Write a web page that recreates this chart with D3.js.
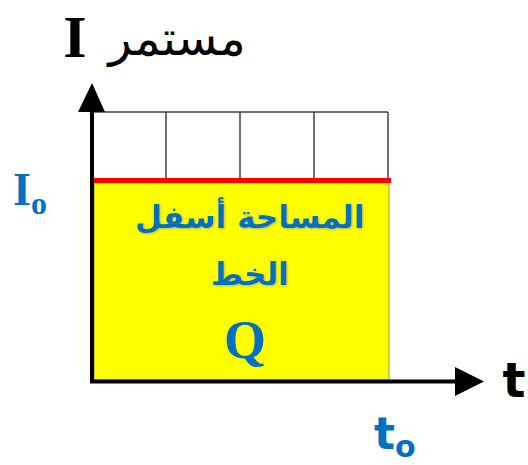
<!DOCTYPE html>
<html>
<head>
<meta charset="utf-8">
<script src="https://cdn.jsdelivr.net/npm/d3@7"></script>
<style>
  body { margin: 0; background: #fff; }
</style>
</head>
<body>
<div id="chart"></div>
<script>
// grid cells along each axis, the constant current and the end time (grid units)
const gridCols = [0, 1, 2, 3, 4];
const gridRows = [0, 1, 2, 3, 4];
const currentI0 = 3;
const timeT0 = 4;
const areaLabel = ["المساحة أسفل", "الخط"];
const yTitle = "مستمر";

const W = 528, H = 465;
const blue = "#0070c0";

const svg = d3.select("#chart").append("svg")
    .attr("width", W)
    .attr("height", H);

const defs = svg.append("defs");
defs.append("filter").attr("id", "glow")
    .append("feDropShadow")
    .attr("dx", 1).attr("dy", 1)
    .attr("stdDeviation", 1.2)
    .attr("flood-color", "#888")
    .attr("flood-opacity", 0.6);

const x = d3.scaleLinear().domain([0, 4]).range([92, 388]);
const y = d3.scaleLinear().domain([0, 4]).range([380, 112]);

//grid lines
svg.append("g")
    .selectAll("line")
    .data(gridCols)
    .join("line")
      .attr("x1", d => x(d)).attr("x2", d => x(d))
      .attr("y1", y(0)).attr("y2", y(4))
      .attr("stroke", "#404040")
      .attr("stroke-width", 1.5);

svg.append("g")
    .selectAll("line")
    .data(gridRows)
    .join("line")
      .attr("x1", x(0)).attr("x2", x(4))
      .attr("y1", d => y(d)).attr("y2", d => y(d))
      .attr("stroke", "#404040")
      .attr("stroke-width", 1.5);

//area under the line
svg.append("rect")
    .attr("x", x(0) + 2)
    .attr("y", y(currentI0))
    .attr("width", x(timeT0) - x(0) - 1)
    .attr("height", y(0) - y(currentI0))
    .attr("fill", "#ffff00")
    .attr("stroke", "#777")
    .attr("stroke-width", 0.8);

//constant current line
svg.append("line")
    .attr("x1", x(0)).attr("x2", x(timeT0) + 3)
    .attr("y1", y(currentI0) + 1.5).attr("y2", y(currentI0) + 1.5)
    .attr("stroke", "#ff0000")
    .attr("stroke-width", 5);

//axes
svg.append("line")
    .attr("x1", x(0)).attr("x2", x(0))
    .attr("y1", y(0) + 3).attr("y2", y(4))
    .attr("stroke", "#000").attr("stroke-width", 4);
svg.append("path")
    .attr("d", `M${x(0) - 14},${y(4)} L${x(0)},${y(4) - 29} L${x(0) + 13},${y(4)} Z`)
    .attr("fill", "#000");

svg.append("line")
    .attr("x1", x(0) - 2).attr("x2", 458)
    .attr("y1", y(0) + 1.5).attr("y2", y(0) + 1.5)
    .attr("stroke", "#000").attr("stroke-width", 4);
svg.append("path")
    .attr("d", `M455,${y(0) - 13} L484,${y(0) + 1.5} L455,${y(0) + 16} Z`)
    .attr("fill", "#000");

//axis titles
svg.append("text")
    .attr("x", 75).attr("y", 57)
    .attr("text-anchor", "middle")
    .style("font-family", "Liberation Serif")
    .style("font-weight", "bold")
    .style("font-size", "60px")
    .text("I");

svg.append("text")
    .attr("x", 177).attr("y", 55)
    .attr("text-anchor", "middle")
    .style("font-family", "DejaVu Sans")
    .style("font-size", "48px")
    .text(yTitle);

svg.append("text")
    .attr("x", 514).attr("y", 397)
    .attr("text-anchor", "middle")
    .style("font-family", "DejaVu Sans")
    .style("font-weight", "bold")
    .style("font-size", "48px")
    .text("t");

//I0 and t0 labels
const i0 = svg.append("text")
    .attr("x", 13).attr("y", 205)
    .attr("fill", blue)
    .style("font-family", "Liberation Serif")
    .style("font-weight", "bold")
    .style("font-size", "46px");
i0.append("tspan").text("I");
i0.append("tspan").attr("dy", 9).style("font-size", "32px").text("o");

const t0 = svg.append("text")
    .attr("x", 374).attr("y", 449)
    .attr("fill", blue)
    .style("font-family", "DejaVu Sans")
    .style("font-weight", "bold")
    .style("font-size", "44px");
t0.append("tspan").text("t");
t0.append("tspan").attr("dy", 8).style("font-size", "30px").text("o");

//label inside the area
const cx = (x(0) + x(timeT0)) / 2 + 10;
svg.append("g")
    .selectAll("text")
    .data(areaLabel)
    .join("text")
      .attr("x", cx)
      .attr("y", (d, i) => 228 + i * 57)
      .attr("text-anchor", "middle")
      .attr("fill", blue)
      .attr("filter", "url(#glow)")
      .style("font-family", "DejaVu Sans")
      .style("font-weight", "bold")
      .style("font-size", "31px")
      .text(d => d);

svg.append("text")
    .attr("x", 245).attr("y", 358)
    .attr("text-anchor", "middle")
    .attr("fill", blue)
    .style("font-family", "Liberation Serif")
    .style("font-weight", "bold")
    .style("font-size", "54px")
    .text("Q");
</script>
</body>
</html>
